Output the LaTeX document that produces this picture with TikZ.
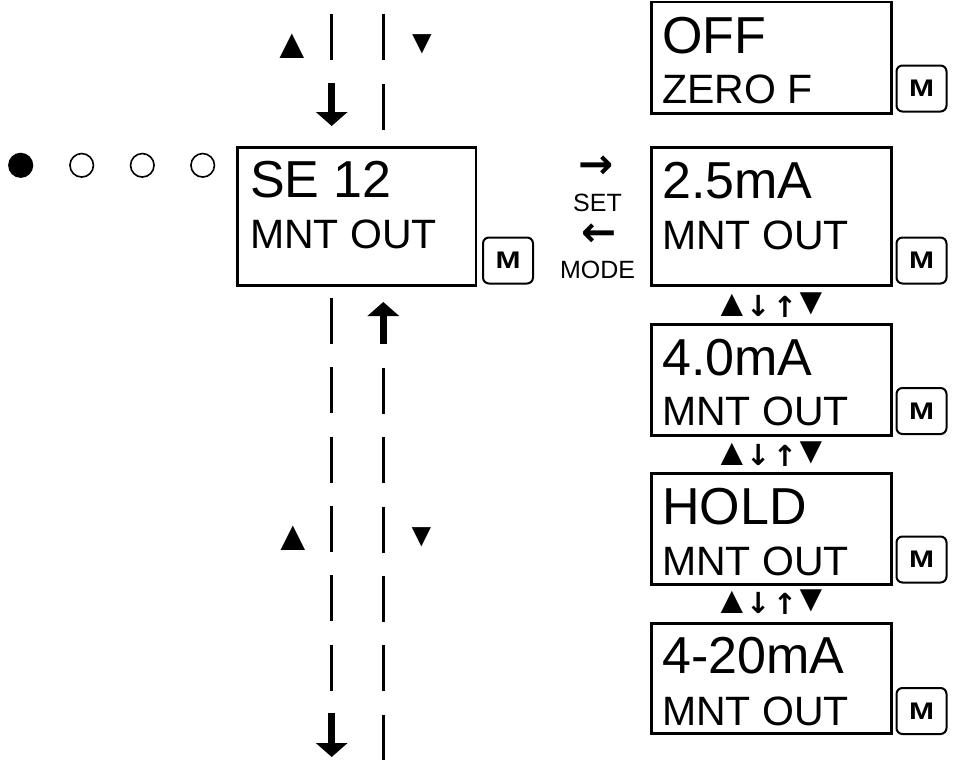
\documentclass[tikz,border=0pt]{standalone}
\usepackage{fontspec}
\usepackage{graphicx}
\setmainfont{Liberation Sans}
\newfontfamily\arrowfont{DejaVu Sans}
\usetikzlibrary{arrows.meta}
\begin{document}
\begin{tikzpicture}[x=1pt,y=-1pt,
  lcd/.style={draw, line width=2.6pt, inner sep=0pt},
  mkey/.style={draw, line width=2pt, rounded corners=6pt, minimum width=50pt, minimum height=46pt, inner sep=0pt,
    font=\bfseries\fontsize{24}{24}\selectfont},
  bigline/.style={font=\fontsize{52}{52}\selectfont, anchor=base west, inner sep=0pt},
  smallline/.style={font=\fontsize{41}{41}\selectfont, anchor=base west, inner sep=0pt},
  dashline/.style={line width=2.6pt, dash pattern=on 46pt off 23.3pt},
  blockarrow/.style={line width=7pt, -{Triangle[width=31pt,length=14pt]}},
  tri/.style={inner sep=0pt, anchor=center, font=\fontsize{42}{42}\selectfont},
  trismall/.style={inner sep=0pt, anchor=center, font=\fontsize{33}{33}\selectfont},
  navtri/.style={inner sep=0pt, anchor=center, font=\fontsize{38}{38}\selectfont},
  navarrow/.style={inner sep=0pt, anchor=center, font=\arrowfont\bfseries\fontsize{29}{29}\selectfont},
  setarrow/.style={inner sep=0pt, anchor=center, font=\arrowfont\bfseries\fontsize{42}{42}\selectfont},
  keylabel/.style={inner sep=0pt, anchor=base, font=\fontsize{25}{25}\selectfont},
  dot/.style={circle, draw, line width=1.6pt, minimum size=23.5pt, inner sep=0pt},
]
\useasboundingbox (0,0) rectangle (957,760);

% ---- status dots
\node[dot, fill=black] (d1) at (20.7,165.3) {};
\node[dot] (d2) at (81.7,165.3) {};
\node[dot] (d3) at (142.3,165.3) {};
\node[dot] (d4) at (202.7,165.3) {};

% ---- main display
\draw[lcd] (237.5,147.3) rectangle (476,285.3);
\node[bigline] (se) at (250,197.8) {SE 12};
\node[smallline] (sem) at (250,248.5) {MNT OUT};
\node[mkey] (mk0) at (508,260.5) {\scalebox{1.25}[1]{M}};

% ---- SET / MODE
\node[setarrow] (ar) at (596,167.5) {→};
\node[keylabel] (set) at (597.5,211) {SET};
\node[setarrow] (al) at (599,235) {←};
\node[keylabel] (mode) at (597.5,278) {MODE};

% ---- right displays
\draw[lcd] (651.2,2) rectangle (891.2,113.7);
\node[bigline] (t1) at (662,53) {OFF};
\node[smallline] (b1) at (662,103) {ZERO F};
\node[mkey] (mk1) at (921.5,88.5) {\scalebox{1.25}[1]{M}};

\draw[lcd] (651.2,147.3) rectangle (891.2,285.3);
\node[bigline] (t2) at (662,198.3) {2.5mA};
\node[smallline] (b2) at (662,249) {MNT OUT};
\node[mkey] (mk2) at (921.5,260.5) {\scalebox{1.25}[1]{M}};

\draw[lcd] (651.2,324.3) rectangle (891.2,435.3);
\node[bigline] (t3) at (662,375) {4.0mA};
\node[smallline] (b3) at (662,425.7) {MNT OUT};
\node[mkey] (mk3) at (921.5,411) {\scalebox{1.25}[1]{M}};

\draw[lcd] (651.2,473.3) rectangle (891.2,584.7);
\node[bigline] (t4) at (662,524) {HOLD};
\node[smallline] (b4) at (662,575) {MNT OUT};
\node[mkey] (mk4) at (921.5,559.5) {\scalebox{1.25}[1]{M}};

\draw[lcd] (651.2,623.3) rectangle (891.2,733.7);
\node[bigline] (t5) at (662,673.5) {4-20mA};
\node[smallline] (b5) at (662,725) {MNT OUT};
\node[mkey] (mk5) at (921.5,711) {\scalebox{1.25}[1]{M}};

% ---- up/down symbols between right displays
\foreach \yy/\nm in {306/s1, 455/s2, 603/s3}{
  \node[navtri]   (\nm a) at (732,\yy-0.5) {▲};
  \node[navarrow] (\nm b) at (758.3,\yy) {↓};
  \node[navarrow] (\nm c) at (785,\yy+1) {↑};
  \node[navtri]   (\nm d) at (811.7,\yy-2.5) {▼};
}

% ---- vertical navigation columns
\coordinate (L1a) at (331.7,14);  \coordinate (L1b) at (331.7,60);
\coordinate (R1a) at (383.3,14);  \coordinate (R1b) at (383.3,130);
\coordinate (La)  at (331.7,298); \coordinate (Lb)  at (331.7,691);
\coordinate (Ra)  at (383.3,368); \coordinate (Rb)  at (383.3,760);
\draw[line width=2.6pt] (L1a) -- (L1b);
\draw[line width=2.6pt, dash pattern=on 46pt off 24pt] (R1a) -- (R1b);
\draw[dashline] (La) -- (Lb);
\draw[dashline] (Ra) -- (Rb);

\coordinate (A1a) at (331.7,83);  \coordinate (A1b) at (331.7,126);
\coordinate (A2a) at (383.3,344); \coordinate (A2b) at (383.3,302);
\coordinate (A3a) at (331.7,713); \coordinate (A3b) at (331.7,757);
\draw[blockarrow] (A1a) -- (A1b);
\draw[blockarrow] (A2a) -- (A2b);
\draw[blockarrow] (A3a) -- (A3b);

\node[tri] (u1) at (292.5,46.5) {▲};
\node[trismall] (dn1) at (422,44.5) {▼};
\node[tri] (u2) at (293,538.5) {▲};
\node[trismall] (dn2) at (421.5,537) {▼};
\end{tikzpicture}
\end{document}
